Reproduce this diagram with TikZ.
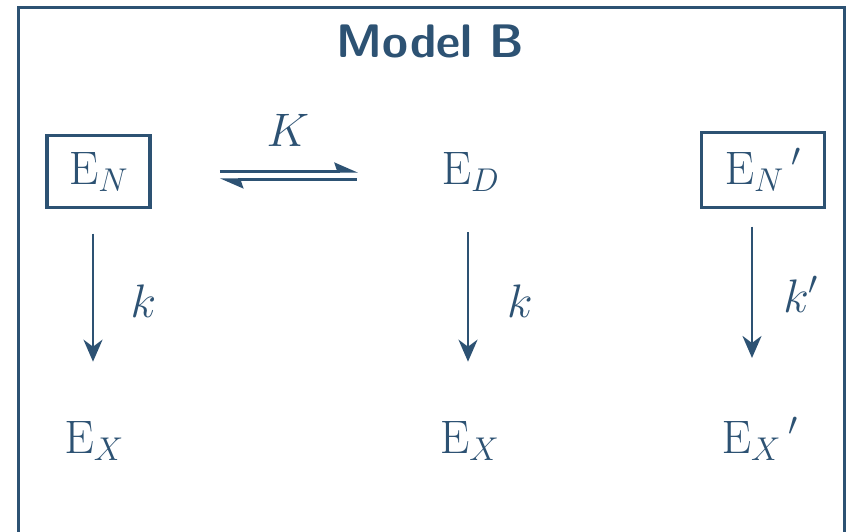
\RequirePackage{fix-cm}
\documentclass[tikz,border=0pt]{standalone}
\usetikzlibrary{arrows.meta}
\definecolor{mb}{RGB}{45,82,115}
\begin{document}
\begin{tikzpicture}[x=1pt,y=-1pt,
  every node/.style={text=mb, inner sep=0pt, font=\fontsize{47}{56}\selectfont},
  boxed/.style={draw=mb, line width=3.3pt, inner xsep=22pt, inner ysep=16.5pt},
  arr/.style={draw=mb, line width=2.8pt, -{Stealth[length=22pt,width=19pt,inset=7pt]}},
  eq/.style={draw=mb, line width=2.3pt, -{Stealth[left,length=21pt,width=18pt,inset=3pt]}}]
\useasboundingbox (0,0) rectangle (846,531);
\clip (0,0) rectangle (846,531);
\draw[mb, line width=3.3pt] (18.3,7.3) rectangle (844.3,580);
\node[anchor=base, font=\fontsize{47}{56}\selectfont\sffamily\bfseries] (title) at (430.5,57) {Model B};
\node[boxed, anchor=base] (EN) at (98.5,184) {$\mathrm{E}_N$};
\node[anchor=base] (ED) at (470.5,184) {$\mathrm{E}_D$};
\node[boxed, anchor=base, inner xsep=23pt] (ENp) at (763,184) {${\mathrm{E}_N}\,'$};
\node[anchor=base] (EX1) at (94,453) {$\mathrm{E}_X$};
\node[anchor=base] (EX2) at (469.5,453) {$\mathrm{E}_X$};
\node[anchor=base] (EXp) at (760,453) {${\mathrm{E}_X}\,'$};
\node[anchor=base] (K) at (288,146) {$K$};
\node[anchor=base] (k1) at (143.5,317) {$k$};
\node[anchor=base] (k2) at (520,317) {$k$};
\node[anchor=base] (k3) at (801,312) {$k'$};
% equilibrium
\draw[eq, shorten <=68pt, shorten >=83.5pt] (EN.east) -- (EN.east -| ED.west);
\draw[eq, shorten <=84.5pt, shorten >=68pt] ([yshift=-8pt]ED.west) -- ([yshift=-8pt]EN.east);
% reactions
\draw[arr, shorten <=24.5pt, shorten >=59pt] ([xshift=-5.5pt]EN.south) -- ([xshift=-5.5pt]EN.south |- EX1.north);
\draw[arr, shorten <=41pt, shorten >=59pt] ([xshift=-2.5pt]ED.south) -- ([xshift=-2.5pt]ED.south |- EX2.north);
\draw[arr, shorten <=17.5pt, shorten >=59.5pt] ([xshift=-11pt]ENp.south) -- ([xshift=-11pt]ENp.south |- EXp.north);
\end{tikzpicture}
\end{document}
